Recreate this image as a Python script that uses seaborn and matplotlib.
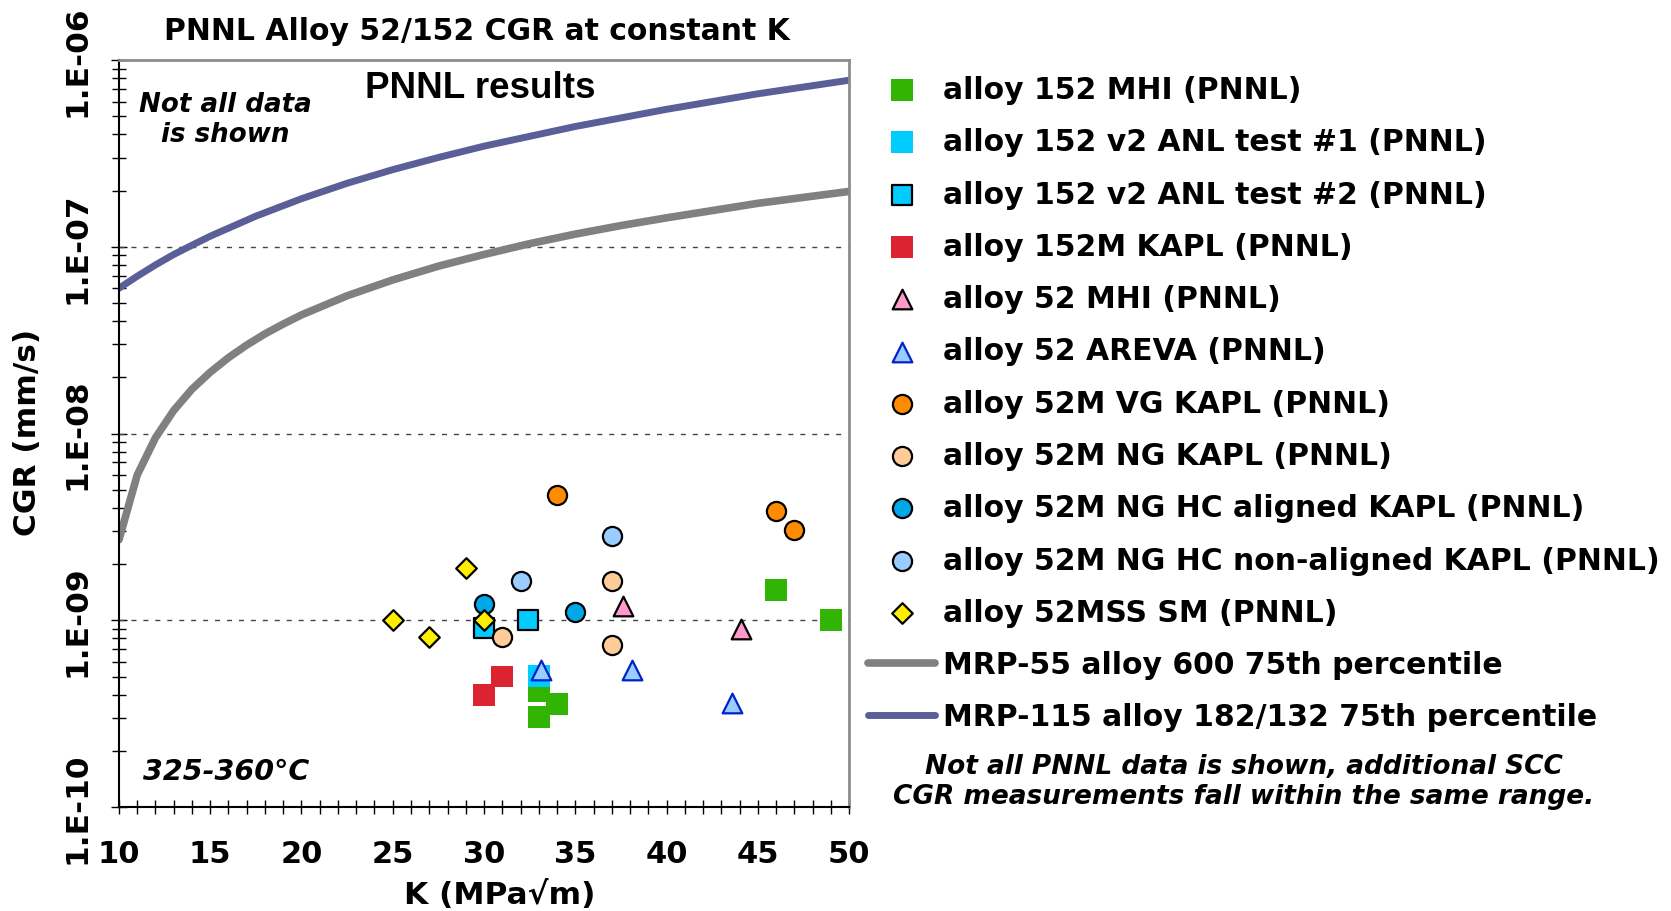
import matplotlib
matplotlib.use("Agg")
import matplotlib.pyplot as plt
import seaborn as sns
from matplotlib.ticker import LogLocator, MultipleLocator, NullFormatter

# ---- data ----
k_152_mhi = [33, 34, 33, 46, 49]
cgr_152_mhi = [4.2e-10, 3.55e-10, 3.05e-10, 1.45e-9, 1.0e-9]

k_152_anl1 = [33]
cgr_152_anl1 = [5.05e-10]

k_152_anl2 = [30, 32.4]
cgr_152_anl2 = [9.1e-10, 1.0e-9]

k_152m_kapl = [30, 31]
cgr_152m_kapl = [4.0e-10, 5.0e-10]

k_52_mhi = [37.6, 44.1]
cgr_52_mhi = [1.2e-9, 9.0e-10]

k_52_areva = [33.1, 38.1, 43.6]
cgr_52_areva = [5.4e-10, 5.4e-10, 3.6e-10]

k_52m_vg = [34, 46, 47]
cgr_52m_vg = [4.66e-9, 3.84e-9, 3.03e-9]

k_52m_ng = [31, 37, 37]
cgr_52m_ng = [8.1e-10, 1.62e-9, 7.4e-10]

k_52m_hc_al = [30, 35]
cgr_52m_hc_al = [1.22e-9, 1.11e-9]

k_52m_hc_nonal = [32, 37]
cgr_52m_hc_nonal = [1.62e-9, 2.84e-9]

k_52mss = [25, 27, 29, 30]
cgr_52mss = [1.0e-9, 8.1e-10, 1.9e-9, 1.0e-9]

k_mrp55 = [10, 11, 12, 13, 14, 15, 16, 17, 18, 19, 20, 22.5, 25, 27.5,
           30, 32.5, 35, 37.5, 40, 45, 50]
cgr_mrp55 = [2.7e-9, 6.0e-9, 9.5e-9, 1.33e-8, 1.73e-8, 2.13e-8, 2.55e-8,
             2.98e-8, 3.42e-8, 3.86e-8, 4.32e-8, 5.47e-8, 6.65e-8, 7.88e-8,
             9.1e-8, 1.04e-7, 1.17e-7, 1.30e-7, 1.43e-7, 1.71e-7, 1.98e-7]

k_mrp115 = [10, 11, 12, 13, 14, 15, 17.5, 20, 22.5, 25, 27.5, 30, 35, 40, 45, 50]
cgr_mrp115 = [6.0e-8, 6.96e-8, 8.0e-8, 9.1e-8, 1.02e-7, 1.14e-7, 1.46e-7,
              1.81e-7, 2.19e-7, 2.59e-7, 3.01e-7, 3.46e-7, 4.41e-7, 5.45e-7,
              6.6e-7, 7.8e-7]

x_ticks = [10, 15, 20, 25, 30, 35, 40, 45, 50]
y_ticks = [1e-10, 1e-9, 1e-8, 1e-7, 1e-6]
y_tick_labels = ["1.E-10", "1.E-09", "1.E-08", "1.E-07", "1.E-06"]

# ---- style ----
sns.set_style("white")
plt.rcParams["font.family"] = ["DejaVu Sans"]
plt.rcParams["text.color"] = "black"
plt.rcParams["axes.labelcolor"] = "black"
plt.rcParams["xtick.color"] = "black"
plt.rcParams["ytick.color"] = "black"

fig = plt.figure(figsize=(16.71, 9.12), dpi=100)
ax = fig.add_axes([0.0712, 0.114, 0.4369, 0.819])

# scatter series
series = [
    (k_152_mhi, cgr_152_mhi, "s", 250, "#31b404", "none", 0, "alloy 152 MHI (PNNL)"),
    (k_152_anl1, cgr_152_anl1, "s", 250, "#00ccff", "none", 0, "alloy 152 v2 ANL test #1 (PNNL)"),
    (k_152_anl2, cgr_152_anl2, "s", 200, "#00ccff", "black", 1.6, "alloy 152 v2 ANL test #2 (PNNL)"),
    (k_152m_kapl, cgr_152m_kapl, "s", 250, "#dc2332", "none", 0, "alloy 152M KAPL (PNNL)"),
    (k_52_mhi, cgr_52_mhi, "^", 200, "#ff99cc", "black", 1.6, "alloy 52 MHI (PNNL)"),
    (k_52_areva, cgr_52_areva, "^", 200, "#99ccff", "#0022cc", 1.6, "alloy 52 AREVA (PNNL)"),
    (k_52m_vg, cgr_52m_vg, "o", 190, "#ff8c00", "black", 1.6, "alloy 52M VG KAPL (PNNL)"),
    (k_52m_ng, cgr_52m_ng, "o", 190, "#ffcc99", "black", 1.6, "alloy 52M NG KAPL (PNNL)"),
    (k_52m_hc_al, cgr_52m_hc_al, "o", 190, "#00a8e8", "black", 1.6, "alloy 52M NG HC aligned KAPL (PNNL)"),
    (k_52m_hc_nonal, cgr_52m_hc_nonal, "o", 190, "#99ccff", "black", 1.6, "alloy 52M NG HC non-aligned KAPL (PNNL)"),
    (k_52mss, cgr_52mss, "D", 110, "#ffee00", "black", 1.6, "alloy 52MSS SM (PNNL)"),
]
for kx, cy, mk, sz, fc, ec, lw, lab in series:
    sns.scatterplot(x=kx, y=cy, marker=mk, s=sz, color=fc, edgecolor=ec,
                    linewidth=lw, label=lab, ax=ax, zorder=3)

sns.lineplot(x=k_mrp55, y=cgr_mrp55, color="#808080", linewidth=5.5,
             label="MRP-55 alloy 600 75th percentile", ax=ax, zorder=2)
sns.lineplot(x=k_mrp115, y=cgr_mrp115, color="#5b5f97", linewidth=5,
             label="MRP-115 alloy 182/132 75th percentile", ax=ax, zorder=2)

# axes
ax.set_yscale("log")
ax.set_xlim(10, 50)
ax.set_ylim(1e-10, 1e-6)
ax.set_xticks(x_ticks)
ax.set_xticklabels([str(v) for v in x_ticks], fontsize=22, fontweight="bold")
ax.xaxis.set_minor_locator(MultipleLocator(1))
ax.set_yticks(y_ticks)
ax.set_yticklabels(y_tick_labels, fontsize=22.5, fontweight="bold",
                   rotation=90, va="center")
ax.yaxis.set_minor_locator(LogLocator(base=10, subs=range(2, 10)))
ax.yaxis.set_minor_formatter(NullFormatter())
ax.tick_params(axis="x", which="both", direction="inout", length=9.5,
               width=1, pad=18, bottom=True)
ax.tick_params(axis="y", which="major", direction="inout", length=12,
               width=1, pad=14, left=True)
ax.tick_params(axis="y", which="minor", direction="inout", length=10,
               width=1, left=True)
ax.set_xlabel("")
ax.set_ylabel("")

for side in ["left", "bottom"]:
    ax.spines[side].set_color("black")
    ax.spines[side].set_linewidth(1.5)
for side in ["top", "right"]:
    ax.spines[side].set_color("#8c8c8c")
    ax.spines[side].set_linewidth(2)

for yv in [1e-9, 1e-8, 1e-7]:
    ax.axhline(yv, color="#444444", linewidth=1, dashes=(3.6, 5), zorder=1)

# texts
fig.text(477 / 1671, 1 - 32 / 912, "PNNL Alloy 52/152 CGR at constant K",
         ha="center", va="center", fontsize=21.5, fontweight="bold")
fig.text(500 / 1671, 1 - 895 / 912, "K (MPa\u221am)", ha="center", va="center",
         fontsize=22.5, fontweight="bold")
fig.text(28 / 1671, 1 - 432 / 912, "CGR (mm/s)", ha="center", va="center",
         rotation=90, fontsize=22.5, fontweight="bold")
fig.text(480 / 1671, 1 - 89 / 912, "PNNL results",
         ha="center", va="center", fontsize=26.5, fontweight="bold",
         family="Liberation Sans")
fig.text(225 / 1671, 1 - 120 / 912, "Not all data\nis shown", ha="center",
         va="center", fontsize=18.8, fontweight="bold", style="italic",
         linespacing=1.25)
fig.text(226 / 1671, 1 - 772 / 912, "325-360\u00b0C", ha="center", va="center",
         fontsize=20.5, fontweight="bold", style="italic")
fig.text(1244 / 1671, 1 - 782 / 912,
         "Not all PNNL data is shown, additional SCC\nCGR measurements fall within the same range.",
         ha="center", va="center", fontsize=19, fontweight="bold", style="italic",
         linespacing=1.22)

ax.legend(loc="upper left", bbox_to_anchor=(868 / 1671, 1 - 76 / 912),
          bbox_transform=fig.transFigure, frameon=False,
          prop={"weight": "bold", "size": 21.5}, handlelength=2.25,
          handletextpad=0.27, labelspacing=0.78, borderpad=0, borderaxespad=0)

fig.savefig("out.png", dpi=100)
